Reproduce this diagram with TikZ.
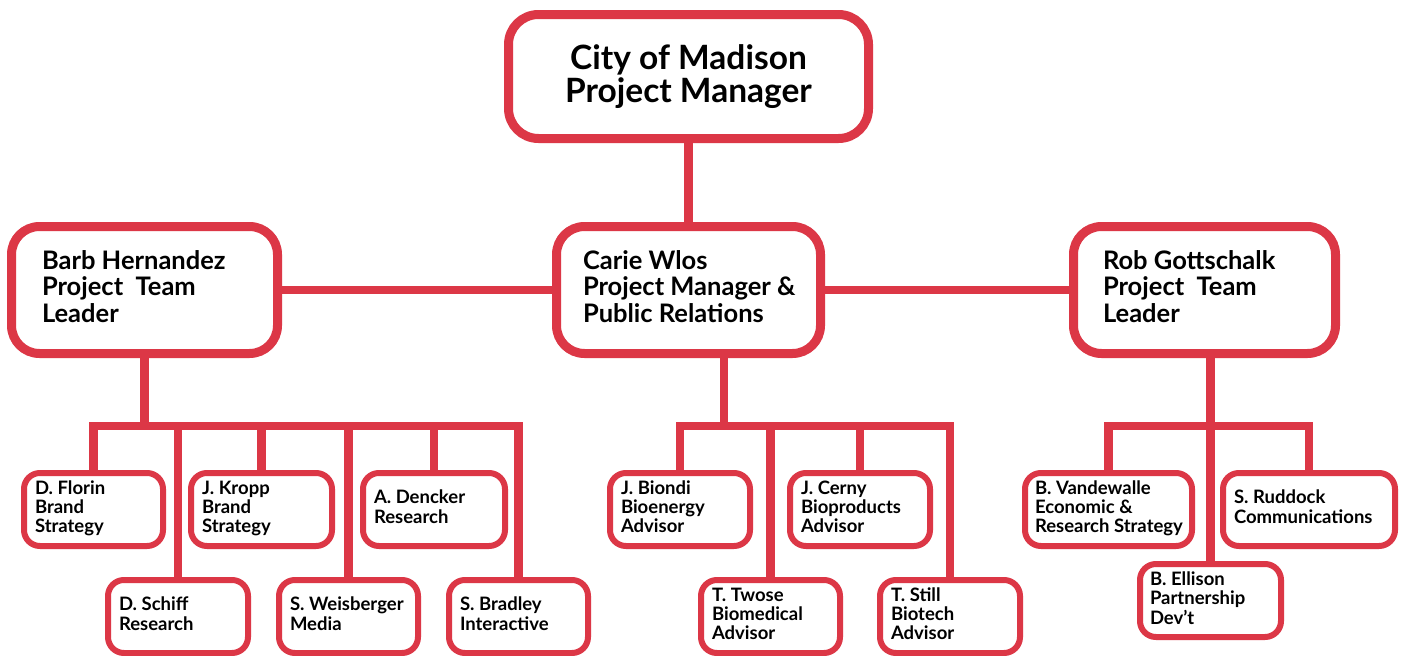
\documentclass[tikz,border=0pt]{standalone}
\usepackage{fontspec}
\setmainfont{Lato}[BoldFont={Lato Bold}]
\definecolor{orgred}{RGB}{220,55,70}
% left-aligned block of lines that never wraps, with the font's own word spacing
\newcommand\boxlines[1]{\spaceskip=0pt\xspaceskip=0pt\begin{tabular}{@{}l@{}}#1\end{tabular}}
\begin{document}
\begin{tikzpicture}[x=1pt,y=-1pt,
  topbox/.style={draw=orgred, fill=white, line width=9pt, rounded corners=30pt,
    align=center, font=\fontsize{33.5}{33}\selectfont\bfseries},
  bigbox/.style={draw=orgred, fill=white, line width=9pt, rounded corners=28pt,
    minimum height=127pt, inner ysep=0pt, align=left,
    font=\fontsize{25.5}{25}\selectfont\bfseries},
  smallbox/.style={draw=orgred, fill=white, line width=6pt, rounded corners=16pt,
    minimum height=73pt, inner xsep=11pt, inner ysep=0pt, align=left,
    font=\fontsize{18.5}{18.5}\selectfont\bfseries},
  conn/.style={draw=orgred, line width=8.5pt}
]
\useasboundingbox (0,0) rectangle (1406,656);
\fill[white] (0,0) rectangle (1406,656);

% level of the horizontal bars above the small boxes
\coordinate (lbus) at (0,426);

% top level
\node[topbox, minimum width=360pt, minimum height=124pt] (top) at (688.5,76.5)
  {\spaceskip=0pt\xspaceskip=0pt City of Madison\\Project Manager};

% second level
\node[bigbox, minimum width=266pt, inner xsep=30.5pt, text width=205pt] (barb) at (144.5,290)
  {\boxlines{Barb Hernandez\\Project~ Team\\Leader}};
\node[bigbox, minimum width=264pt, inner xsep=26.5pt, text width=211pt] (carie) at (688.5,290)
  {\boxlines{Carie Wlos\\Project Manager \&\\Public Relations}};
\node[bigbox, minimum width=262pt, inner xsep=29.5pt, text width=203pt] (rob) at (1204.5,290)
  {\boxlines{Rob Gottschalk\\Project~ Team\\Leader}};

% Barb Hernandez team
\node[smallbox, minimum width=139pt, text width=117pt] (florin) at (93.5,509.5)
  {\boxlines{D. Florin\\Brand\\Strategy}};
\node[smallbox, minimum width=141pt, text width=119pt] (kropp) at (261.5,509.5)
  {\boxlines{J. Kropp\\Brand\\Strategy}};
\node[smallbox, minimum width=142pt, text width=120pt] (dencker) at (434,509.5)
  {\boxlines{A. Dencker\\Research}};
\node[smallbox, minimum width=140pt, text width=118pt] (schiff) at (178,616.5)
  {\boxlines{D. Schiff\\Research}};
\node[smallbox, minimum width=139pt, text width=117pt] (weis) at (348.5,616.5)
  {\boxlines{S. Weisberger\\Media}};
\node[smallbox, minimum width=139pt, text width=117pt] (bradley) at (518.5,616.5)
  {\boxlines{S. Bradley\\Interactive}};

% Carie Wlos team
\node[smallbox, minimum width=140pt, text width=118pt] (biondi) at (680,509.5)
  {\boxlines{J. Biondi\\Bioenergy\\Advisor}};
\node[smallbox, minimum width=140pt, text width=118pt] (cerny) at (860,509.5)
  {\boxlines{J. Cerny\\Bioproducts\\Advisor}};
\node[smallbox, minimum width=139pt, text width=117pt] (twose) at (770.5,616.5)
  {\boxlines{T. Twose\\Biomedical\\Advisor}};
\node[smallbox, minimum width=140pt, text width=118pt] (still) at (950,616.5)
  {\boxlines{T. Still\\Biotech\\Advisor}};

% Rob Gottschalk team
\node[smallbox, minimum width=167pt, text width=147pt, inner xsep=10pt] (vande) at (1108.5,509.5)
  {\boxlines{B. Vandewalle\\Economic \&\\Research Strategy}};
\node[smallbox, minimum width=172pt, text width=150pt] (ruddock) at (1309,509.5)
  {\boxlines{S. Ruddock\\Communications}};
\node[smallbox, minimum width=141pt, text width=121pt, inner xsep=10pt] (ellison) at (1210.5,600.5)
  {\boxlines{B. Ellison\\Partnership\\Dev't}};

% connectors between the upper boxes
\draw[conn] (top.south) -- (carie.north);
\draw[conn] (barb.east) -- (carie.west);
\draw[conn] (carie.east) -- (rob.west);

% Barb Hernandez branch
\draw[conn] (barb.south) -- (barb.south |- lbus);
\draw[conn] (florin.north) -- (florin.north |- lbus) -- (bradley.north |- lbus) -- (bradley.north);
\draw[conn] (kropp.north |- lbus) -- (kropp.north);
\draw[conn] (dencker.north |- lbus) -- (dencker.north);
\draw[conn] (schiff.north |- lbus) -- (schiff.north);
\draw[conn] (weis.north |- lbus) -- (weis.north);

% Carie Wlos branch
\coordinate (cdrop) at ([xshift=35.5pt]carie.south);
\draw[conn] (cdrop) -- (cdrop |- lbus);
\draw[conn] (biondi.north) -- (biondi.north |- lbus) -- (still.north |- lbus) -- (still.north);
\draw[conn] (cerny.north |- lbus) -- (cerny.north);
\draw[conn] (twose.north |- lbus) -- (twose.north);

% Rob Gottschalk branch
\draw[conn] (rob.south -| ellison.north) -- (ellison.north);
\draw[conn] (vande.north) -- (vande.north |- lbus) -- (ruddock.north |- lbus) -- (ruddock.north);
\end{tikzpicture}
\end{document}
